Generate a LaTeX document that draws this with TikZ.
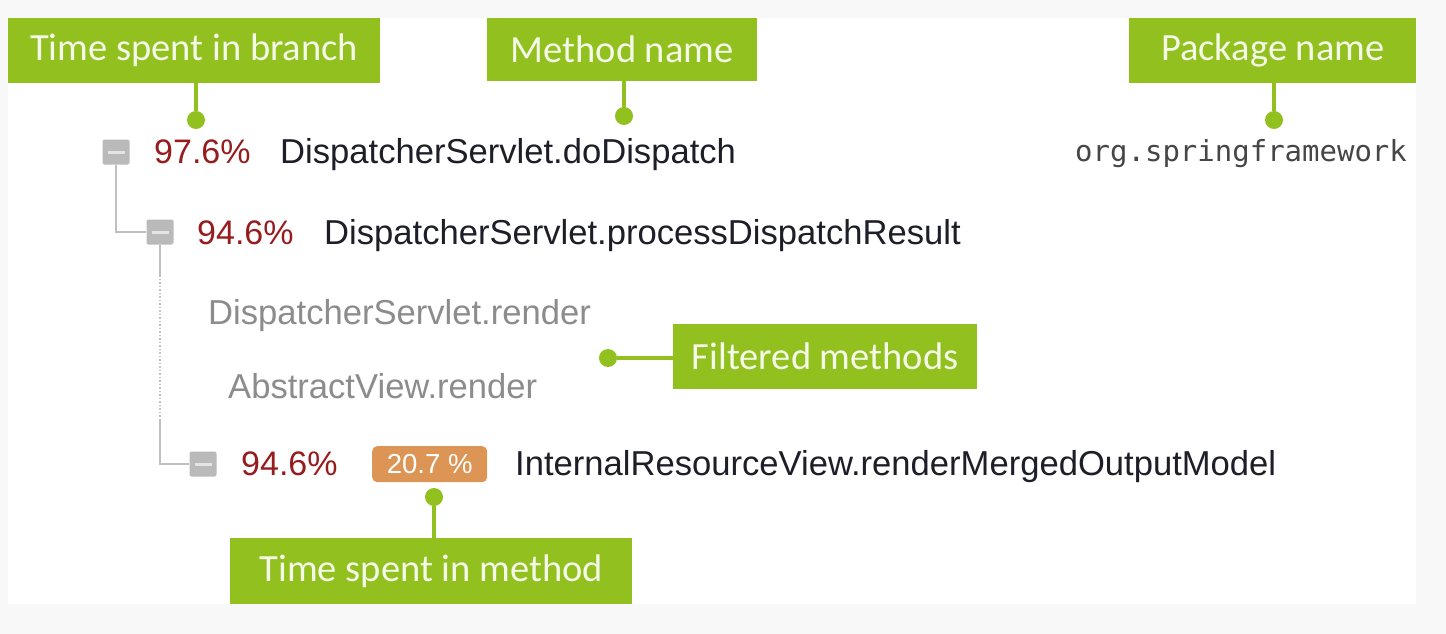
\documentclass[tikz,border=0pt]{standalone}
\usepackage{fontspec}
\setmainfont{Liberation Sans}
\newfontfamily\calloutfont{Carlito}
\setmonofont{DejaVu Sans Mono}
\definecolor{bggray}{RGB}{248,248,248}
\definecolor{cgreen}{RGB}{146,192,31}
\definecolor{ctext}{RGB}{244,249,232}
\definecolor{cred}{RGB}{150,28,30}
\definecolor{cdark}{RGB}{30,30,40}
\definecolor{cfilter}{RGB}{140,140,140}
\definecolor{cmono}{RGB}{70,70,70}
\definecolor{icongray}{RGB}{186,186,186}
\definecolor{icondash}{RGB}{228,228,228}
\definecolor{cline}{RGB}{192,192,192}
\definecolor{corange}{RGB}{221,149,86}
\begin{document}
\begin{tikzpicture}[x=1pt,y=-1pt,
  callout/.style={fill=cgreen, text=ctext, font=\calloutfont\fontsize{38.5}{44}\selectfont,
    inner sep=0pt, anchor=north west},
  gdot/.style={circle, fill=cgreen, minimum size=18pt, inner sep=0pt},
  glink/.style={draw=cgreen, line width=4pt},
  icon/.style={fill=icongray, rounded corners=2pt, minimum width=27pt, minimum height=25pt,
    inner sep=0pt, path picture={\draw[icondash, line width=3pt]
      ([xshift=5pt]path picture bounding box.west) -- ([xshift=-5pt]path picture bounding box.east);}},
  pct/.style={text=cred, font=\fontsize{34}{40}\selectfont, inner sep=0pt, anchor=base west},
  meth/.style={text=cdark, font=\fontsize{34.6}{40}\selectfont, inner sep=0pt, anchor=base west},
  filt/.style={text=cfilter, font=\fontsize{34.6}{40}\selectfont, inner sep=0pt, anchor=base west},
  pkg/.style={text=cmono, font=\ttfamily\fontsize{29}{34}\selectfont, inner sep=0pt, anchor=base west},
  badge/.style={fill=corange, text=white, rounded corners=5pt, font=\fontsize{27.5}{30}\selectfont,
    minimum width=115pt, minimum height=36pt, inner sep=0pt, anchor=north west},
  treeline/.style={draw=cline, line width=2pt},
  treedot/.style={draw=cline, line width=1.5pt, dotted}
]
\fill[bggray] (0,0) rectangle (1446,634);
\fill[white] (8,18) rectangle (1416,604);
\useasboundingbox (0,0) rectangle (1446,634);

% callouts
\node[callout, minimum width=372pt, minimum height=65pt] (b1) at (8,18) {Time spent in branch};
\node[callout, minimum width=270pt, minimum height=63pt] (b2) at (487,18) {Method name};
\node[callout, minimum width=287pt, minimum height=65pt] (b3) at (1129,18) {Package name};
\node[callout, minimum width=304pt, minimum height=65pt] (b4) at (673,324) {Filtered methods};
\node[callout, minimum width=402pt, minimum height=66pt] (b5) at (230,538) {Time spent in method};

% tree icons
\node[icon] (i1) at (116,152) {};
\node[icon] (i2) at (160,232) {};
\node[icon] (i3) at (203,464) {};

% tree lines
\draw[treeline] (i1.south) |- (i2.west);
\coordinate (ds) at (160,275);
\coordinate (de) at (160,420);
\draw[treeline] (i2.south) -- (ds);
\draw[treedot] (ds) -- (de);
\draw[treeline] (de) |- (i3.west);

% rows
\node[pct] (p1) at (154,163) {97.6\%};
\node[meth] (m1) at (280,163) {DispatcherServlet.doDispatch};
\node[pkg] (pk) at (1075,161) {org.springframework};
\node[pct] (p2) at (197,244) {94.6\%};
\node[meth] (m2) at (324,244) {DispatcherServlet.processDispatchResult};
\node[filt] (f1) at (208,324) {DispatcherServlet.render};
\node[filt] (f2) at (228,398) {AbstractView.render};
\node[pct] (p3) at (241,475) {94.6\%};
\node[badge] (bd) at (372,446) {20.7 \%};
\node[meth] (m3) at (515,475) {InternalResourceView.renderMergedOutputModel};

% callout connectors
\node[gdot] (d1) at (196,120) {};
\node[gdot] (d2) at (624,116) {};
\node[gdot] (d3) at (1274,120) {};
\node[gdot] (d4) at (608,358) {};
\node[gdot] (d5) at (434,497) {};
\draw[glink] (b1.south -| d1) -- (d1);
\draw[glink] (b2.south -| d2) -- (d2);
\draw[glink] (b3.south -| d3) -- (d3);
\draw[glink] (d4) -- (b4.west |- d4);
\draw[glink] (d5) -- (b5.north -| d5);
\end{tikzpicture}
\end{document}
